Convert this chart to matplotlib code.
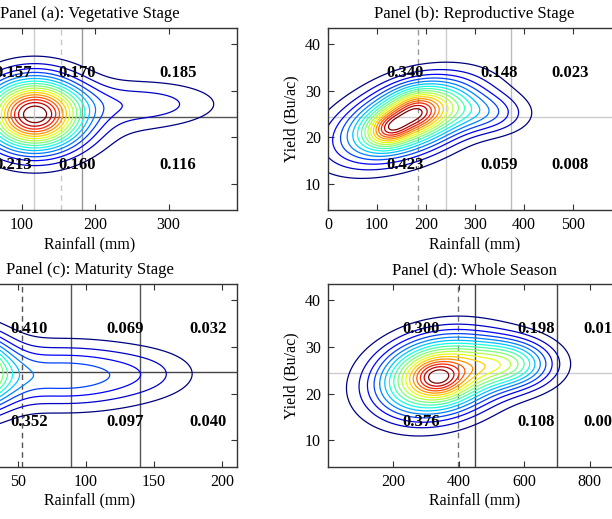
import numpy as np
import matplotlib
matplotlib.use("Agg")
import matplotlib.pyplot as plt

plt.rcParams["font.family"] = ["Liberation Serif", "DejaVu Serif"]
plt.rcParams["font.size"] = 11.5

# panel titles and axis ranges
titles = [
    "Panel (a): Vegetative Stage",
    "Panel (b): Reproductive Stage",
    "Panel (c): Maturity Stage",
    "Panel (d): Whole Season",
]
xlims = [(-7, 393), (0, 598), (-5, 211), (0, 895)]
xticks = [[0, 100, 200, 300], [0, 100, 200, 300, 400, 500],
          [0, 50, 100, 150, 200], [200, 400, 600, 800]]
yticks = [10, 20, 30, 40]
ylim = (4.4, 43.4)

# mean yield line and rainfall thresholds (dashed = mean rainfall)
mean_yield = [24.4, 24.3, 24.5, 24.4]
dashed_x = [154, 184, 53, 398]
solid_x = [[117, 182], [241, 375], [89, 140], [449, 700]]

# probabilities in each cell, top row (above mean yield) and bottom row
top_share = [["0.157", "0.170", "0.185"], ["0.340", "0.148", "0.023"],
             ["0.410", "0.069", "0.032"], ["0.300", "0.198", "0.012"]]
bottom_share = [["0.213", "0.160", "0.116"], ["0.423", "0.059", "0.008"],
                ["0.352", "0.097", "0.040"], ["0.376", "0.108", "0.006"]]
share_x = [[88, 176, 313], [158, 349, 494], [58, 129, 190], [286, 637, 839]]
share_y = [33.8, 14.0]

# density shapes: gaussian components
# columns: x centre, y centre, x spread, y spread, correlation, weight
comp_a = [[117, 24.9, 45, 5.2, 0.0, 1.0],
          [270, 27.2, 69, 3.3, 0.0, 0.13],
          [170, 24.0, 90, 5.5, 0.0, 0.05]]
comp_b = [[160, 23.5, 90, 5.5, 0.45, 1.0],
          [128, 22.0, 30, 2.5, 0.3, 0.45],
          [182, 25.6, 28, 2.5, 0.0, 0.25],
          [205, 27.5, 55, 3.5, 0.0, 0.25],
          [330, 25.0, 55, 3.0, 0.0, 0.25]]
comp_c = [[8, 24.5, 22, 5.2, 0.0, 1.0],
          [85, 23.8, 45, 4.5, 0.0, 0.28],
          [150, 24.5, 25, 3.5, 0.0, 0.05]]
comp_d = [[335, 23.7, 120, 5.5, 0.2, 1.0],
          [335, 23.4, 45, 2.3, 0.0, 0.2],
          [560, 26.3, 90, 3.6, 0.0, 0.5]]
components = [comp_a, comp_b, comp_c, comp_d]

# line colours of the reference lines
dashed_col = ["#c8c8c8", "#999999", "#555555", "#777777"]
solid_col = [["#cccccc", "#999999"], ["#cccccc", "#bbbbbb"],
             ["#555555", "#555555"], ["#444444", "#444444"]]
hline_col = ["#555555", "#cccccc", "#444444", "#cccccc"]

# axes rectangles in figure fraction (panels are cut by the figure edge)
rects = [[-0.093, 0.595, 0.480, 0.351], [0.536, 0.595, 0.478, 0.351],
         [-0.093, 0.101, 0.480, 0.352], [0.536, 0.101, 0.478, 0.352]]


def density(comps, X, Y):
    Z = np.zeros_like(X)
    for mx, my, sx, sy, r, w in comps:
        dx = (X - mx) / sx
        dy = (Y - my) / sy
        q = (dx ** 2 - 2 * r * dx * dy + dy ** 2) / (1 - r ** 2)
        Z += w * np.exp(-0.5 * q)
    return Z


fig = plt.figure(figsize=(6.12, 5.19), dpi=100)

for i in range(4):
    ax = fig.add_axes(rects[i])
    x0, x1 = xlims[i]
    gx = np.linspace(x0 - 60, x1 + 60, 400)
    gy = np.linspace(0, 50, 250)
    X, Y = np.meshgrid(gx, gy)
    Z = density(components[i], X, Y)
    levels = np.linspace(0, Z.max(), 19)[1:-1]
    ax.contour(X, Y, Z, levels=levels, cmap="jet", linewidths=0.9)

    ax.axhline(mean_yield[i], color=hline_col[i], lw=1.0, zorder=1)
    ax.axvline(dashed_x[i], color=dashed_col[i], lw=1.0, ls=(0, (4, 3)), zorder=1)
    for k, xv in enumerate(solid_x[i]):
        ax.axvline(xv, color=solid_col[i][k], lw=1.0, zorder=1)

    for k in range(3):
        ax.text(share_x[i][k], share_y[0], top_share[i][k], ha="center",
                va="center", fontsize=12, fontweight="bold")
        ax.text(share_x[i][k], share_y[1], bottom_share[i][k], ha="center",
                va="center", fontsize=12, fontweight="bold")

    ax.set_xlim(xlims[i])
    ax.set_ylim(ylim)
    ax.set_xticks(xticks[i])
    ax.set_yticks(yticks)
    ax.tick_params(direction="in", top=True, right=True, length=4,
                   width=0.8, color="#333333", labelsize=11.5, pad=5)
    for s in ax.spines.values():
        s.set_color("#333333")
        s.set_linewidth(1.0)
    ax.set_title(titles[i], fontsize=12, pad=7)
    ax.set_xlabel("Rainfall (mm)", fontsize=11.5, labelpad=2)
    ax.set_ylabel("Yield (Bu/ac)", fontsize=11.5, labelpad=4)

fig.savefig("out.png", dpi=100)
